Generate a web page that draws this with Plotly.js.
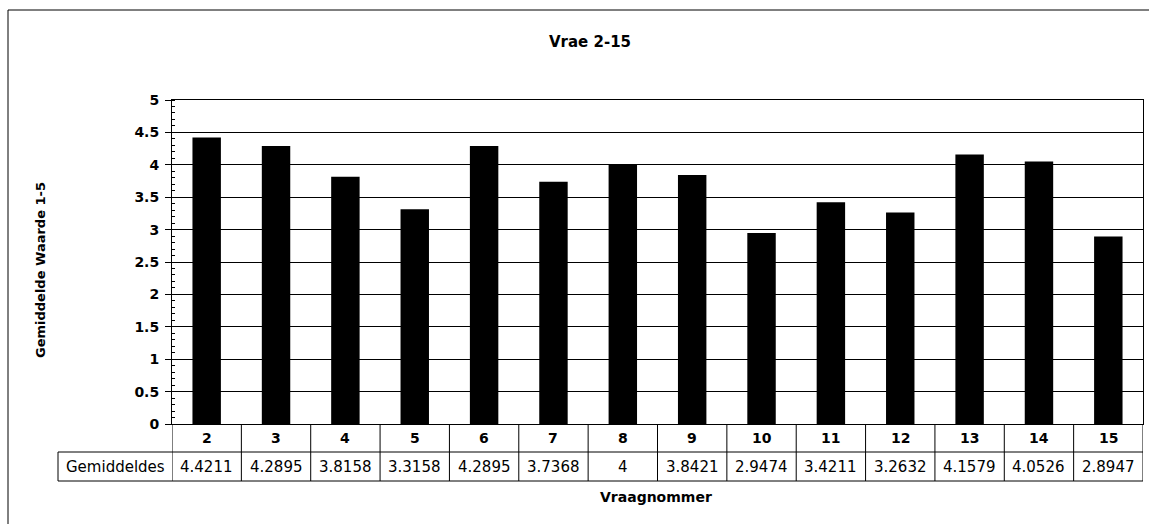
<!DOCTYPE html>
<html>
<head>
<meta charset="utf-8">
<script src="https://cdn.plot.ly/plotly-3.0.1.min.js"></script>
<style>
html,body{margin:0;padding:0;background:#fff;}
#chart{width:1149px;height:524px;}
</style>
</head>
<body>
<div id="chart"></div>
<script>
// ---- data ----
const categories = ["2","3","4","5","6","7","8","9","10","11","12","13","14","15"];
const values = [4.4211, 4.2895, 3.8158, 3.3158, 4.2895, 3.7368, 4, 3.8421, 2.9474, 3.4211, 3.2632, 4.1579, 4.0526, 2.8947];
const valueLabels = ["4.4211","4.2895","3.8158","3.3158","4.2895","3.7368","4","3.8421","2.9474","3.4211","3.2632","4.1579","4.0526","2.8947"];
const rowLabel = "Gemiddeldes";
const chartTitle = "Vrae 2-15";
const yTitle = "Gemiddelde Waarde 1-5";
const xTitle = "Vraagnommer";

// ---- layout helpers (geometry only) ----
const FONT = "DejaVu Sans, Arial, sans-serif";
const ML = 172, MR = 6, MT = 100, MB = 100, W = 1149, H = 524;
const PW = W - ML - MR, PH = H - MT - MB;
const px2x = p => (p - ML) / PW;          // pixel -> paper x
const py2y = p => (H - MB - p) / PH;      // pixel -> paper y

const row1Bottom = py2y(452);
const row2Bottom = py2y(481);
const labelLeft = px2x(58);

const shapes = [];
const annotations = [];
const line = {color: "black", width: 1};

// horizontal table lines
shapes.push({type: "line", xref: "paper", yref: "paper", x0: labelLeft, x1: 1, y0: row1Bottom, y1: row1Bottom, line});
shapes.push({type: "line", xref: "paper", yref: "paper", x0: labelLeft, x1: 1, y0: row2Bottom, y1: row2Bottom, line});
// label cell left edge
shapes.push({type: "line", xref: "paper", yref: "paper", x0: labelLeft, x1: labelLeft, y0: row1Bottom, y1: row2Bottom, line});
// vertical category boundaries
for (let i = 0; i <= categories.length; i++) {
  shapes.push({type: "line", xref: "x", yref: "paper", x0: i - 0.5, x1: i - 0.5, y0: 0, y1: row2Bottom, line});
}
// outer chart frame (left and top)
shapes.push({type: "line", xref: "paper", yref: "paper", x0: px2x(8), x1: px2x(8), y0: py2y(10), y1: py2y(524), line});
shapes.push({type: "line", xref: "paper", yref: "paper", x0: px2x(8), x1: px2x(1149), y0: py2y(10), y1: py2y(10), line});

// table text
categories.forEach((c, i) => {
  annotations.push({xref: "x", yref: "paper", x: i, y: (0 + row1Bottom) / 2, text: "<b>" + c + "</b>",
    showarrow: false, xanchor: "center", yanchor: "middle", font: {family: FONT, size: 14, color: "black"}});
  annotations.push({xref: "x", yref: "paper", x: i, y: (row1Bottom + row2Bottom) / 2, text: valueLabels[i],
    showarrow: false, xanchor: "center", yanchor: "middle", font: {family: FONT, size: 15, color: "black"}});
});
annotations.push({xref: "paper", yref: "paper", x: (labelLeft + 0) / 2, y: (row1Bottom + row2Bottom) / 2, text: rowLabel,
  showarrow: false, xanchor: "center", yanchor: "middle", font: {family: FONT, size: 15, color: "black"}});
// axis titles
annotations.push({xref: "paper", yref: "paper", x: px2x(656), y: py2y(497), text: "<b>" + xTitle + "</b>",
  showarrow: false, xanchor: "center", yanchor: "middle", font: {family: FONT, size: 14, color: "black"}});
annotations.push({xref: "paper", yref: "paper", x: px2x(40), y: py2y(270), text: "<b>" + yTitle + "</b>", textangle: -90,
  showarrow: false, xanchor: "center", yanchor: "middle", font: {family: FONT, size: 13, color: "black"}});

const trace = {
  type: "bar",
  x: categories,
  y: values,
  marker: {color: "black", line: {color: "black", width: 0}},
  width: 0.41,
  hoverinfo: "x+y"
};

const layout = {
  width: W, height: H,
  margin: {l: ML, r: MR, t: MT, b: MB, pad: 0},
  paper_bgcolor: "white",
  plot_bgcolor: "white",
  showlegend: false,
  title: {text: "<b>" + chartTitle + "</b>", x: 590 / W, xanchor: "center", y: 1 - 42 / H, yanchor: "middle",
          font: {family: FONT, size: 15, color: "black"}},
  xaxis: {
    type: "category",
    range: [-0.5, categories.length - 0.5],
    showticklabels: false,
    ticks: "",
    showgrid: false,
    showline: true, linecolor: "black", linewidth: 1, mirror: true,
    zeroline: false,
    fixedrange: true
  },
  yaxis: {
    range: [0, 5],
    dtick: 0.5,
    tick0: 0,
    ticks: "outside", ticklen: 6, tickcolor: "black", tickwidth: 1,
    minor: {dtick: 0.1, ticks: "inside", ticklen: 3, tickcolor: "black", showgrid: false},
    showgrid: true, gridcolor: "black", gridwidth: 1,
    showline: true, linecolor: "black", linewidth: 1, mirror: true,
    zeroline: false,
    tickfont: {family: FONT, size: 14, color: "black", weight: "bold"},
    ticklabelstandoff: 3,
    fixedrange: true
  },
  shapes: shapes,
  annotations: annotations
};

Plotly.newPlot("chart", [trace], layout, {displayModeBar: false, staticPlot: true});
</script>
</body>
</html>
